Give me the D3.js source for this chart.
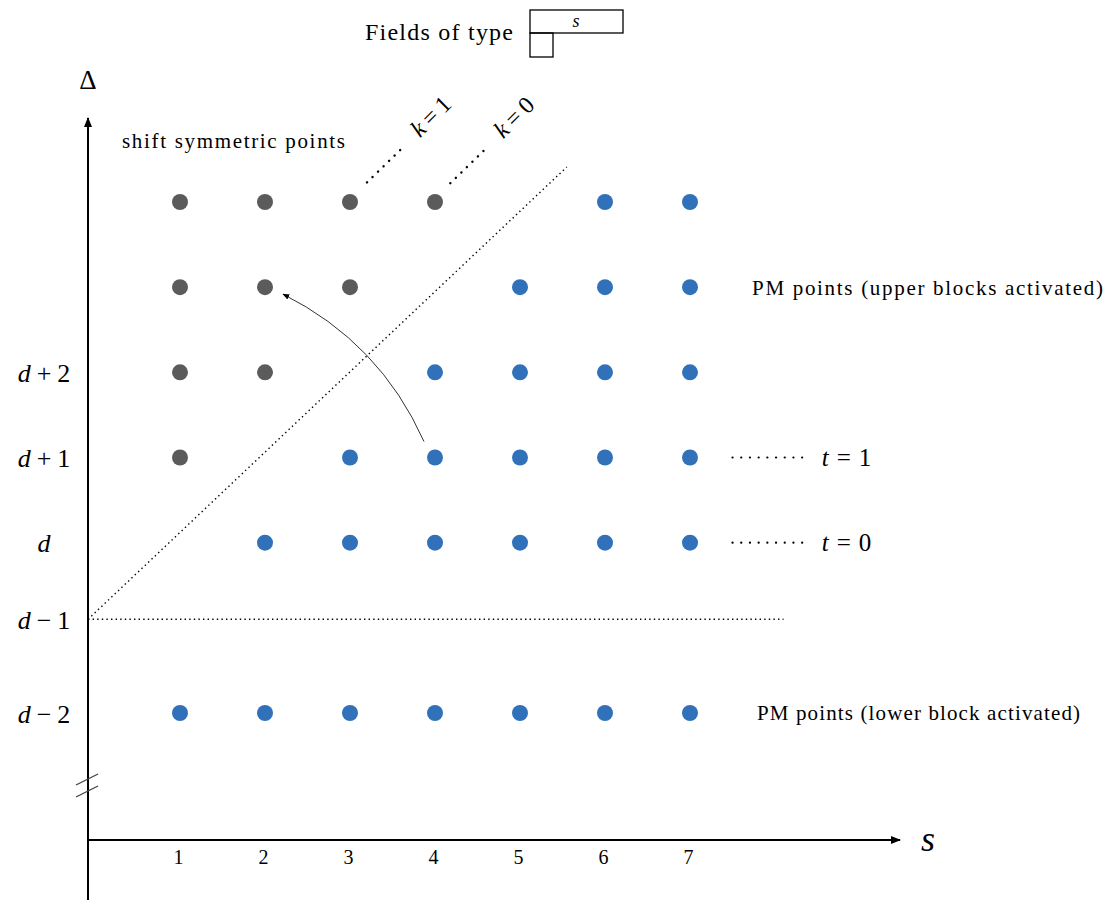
<!DOCTYPE html>
<html>
<head>
<meta charset="UTF-8">
<title>Fields of type</title>
<script src="https://d3js.org/d3.v7.min.js"></script>
<style>
  body { margin: 0; background: #fff; }
  text { font-family: "Liberation Serif", "DejaVu Serif", serif; fill: #000; }
</style>
</head>
<body>
<div id="chart"></div>
<script>
// data: s values and Delta offsets from d
var sTicks = [1, 2, 3, 4, 5, 6, 7];
var deltaTicks = [-2, -0.9, 0, 1, 2];
var deltaLabels = [["d", "\u2212", "2"], ["d", "\u2212", "1"], ["d", "", ""], ["d", "+", "1"], ["d", "+", "2"]];

// shift symmetric points (grey)
var symS = [1, 2, 3, 4, 1, 2, 3, 1, 2, 1];
var symD = [4, 4, 4, 4, 3, 3, 3, 2, 2, 1];
// PM points (blue)
var pmS = [6, 7, 5, 6, 7, 4, 5, 6, 7, 3, 4, 5, 6, 7, 2, 3, 4, 5, 6, 7, 1, 2, 3, 4, 5, 6, 7];
var pmD = [4, 4, 3, 3, 3, 2, 2, 2, 2, 1, 1, 1, 1, 1, 0, 0, 0, 0, 0, 0, -2, -2, -2, -2, -2, -2, -2];

var W = 1107, H = 900;
var svg = d3.select("#chart").append("svg")
  .attr("width", W).attr("height", H);

var x = d3.scaleLinear().domain([1, 7]).range([180, 690]);
var y = d3.scaleLinear().domain([-2, 4]).range([713, 202]);

var x0 = 88, yAxisY = 840;

// arrow markers
var defs = svg.append("defs");
defs.append("marker")
  .attr("id", "ax").attr("viewBox", "0 0 10 10")
  .attr("refX", 9).attr("refY", 5)
  .attr("markerWidth", 10).attr("markerHeight", 10)
  .attr("markerUnits", "userSpaceOnUse")
  .attr("orient", "auto")
  .append("path").attr("d", "M0,1 L10,5 L0,9 Z").attr("fill", "#000");
defs.append("marker")
  .attr("id", "cv").attr("viewBox", "0 0 10 10")
  .attr("refX", 9).attr("refY", 5)
  .attr("markerWidth", 7).attr("markerHeight", 7)
  .attr("markerUnits", "userSpaceOnUse")
  .attr("orient", "auto")
  .append("path").attr("d", "M0,1 L10,5 L0,9 Z").attr("fill", "#000");

// axes
svg.append("line")
  .attr("x1", x0).attr("y1", H).attr("x2", x0).attr("y2", 118)
  .attr("stroke", "#000").attr("stroke-width", 2)
  .attr("marker-end", "url(#ax)");
svg.append("line")
  .attr("x1", x0).attr("y1", yAxisY).attr("x2", 900).attr("y2", yAxisY)
  .attr("stroke", "#000").attr("stroke-width", 2)
  .attr("marker-end", "url(#ax)");

// axis break
[0, 12].forEach(function(o) {
  svg.append("line")
    .attr("x1", 76).attr("y1", 785 + o).attr("x2", 98).attr("y2", 774 + o)
    .attr("stroke", "#444").attr("stroke-width", 1.3);
});

// s tick labels
var xAxis = svg.append("g")
  .attr("transform", "translate(0," + yAxisY + ")")
  .call(d3.axisBottom(x).tickValues(sTicks).tickSize(0).tickPadding(10).tickFormat(d3.format("d")));
xAxis.select(".domain").remove();
xAxis.selectAll("text").style("font-size", "20px").style("font-family", "Liberation Serif, serif").attr("dx", "-2");

// Delta tick labels
var yAxis = svg.append("g")
  .attr("transform", "translate(" + x0 + ",0)")
  .call(d3.axisLeft(y).tickValues(deltaTicks).tickSize(0).tickFormat(function() { return ""; }));
yAxis.select(".domain").remove();
yAxis.selectAll(".tick text").each(function(d, i) {
  var t = d3.select(this)
    .attr("x", -44).attr("text-anchor", "middle").attr("dy", "0.35em")
    .style("font-size", "26px").style("font-family", "Liberation Serif, serif");
  var lab = deltaLabels[i];
  t.append("tspan").style("font-style", "italic").text(lab[0]);
  if (lab[1]) {
    t.append("tspan").attr("dx", "6").text(lab[1]);
    t.append("tspan").attr("dx", "6").text(lab[2]);
  }
});

// axis names
svg.append("text").attr("x", 88).attr("y", 89).attr("text-anchor", "middle")
  .style("font-size", "27px").text("\u0394");
svg.append("text").attr("x", 928).attr("y", 851).attr("text-anchor", "middle")
  .style("font-size", "36px").style("font-style", "italic").text("s");

// dotted guide lines
svg.append("line")
  .attr("x1", x0).attr("y1", y(-0.9)).attr("x2", x(8.1)).attr("y2", y(-0.9))
  .attr("stroke", "#000").attr("stroke-width", 1.4).attr("stroke-dasharray", "1.4,3.2");
svg.append("line")
  .attr("x1", x0).attr("y1", y(-0.9)).attr("x2", x(5.55)).attr("y2", y(4.41))
  .attr("stroke", "#000").attr("stroke-width", 1.4).attr("stroke-dasharray", "1.4,3.2");

// k labels with short dotted leaders
function kLabel(sx, dy, txt) {
  var px = x(sx), py = y(dy);
  svg.append("line")
    .attr("x1", px).attr("y1", py).attr("x2", px + 38).attr("y2", py - 37)
    .attr("stroke", "#000").attr("stroke-width", 2.4).attr("stroke-dasharray", "0.1,7.6")
    .attr("stroke-linecap", "round");
  var g = svg.append("g").attr("transform", "translate(" + (px + 47) + "," + (py - 50) + ") rotate(-45)");
  var t = g.append("text").attr("text-anchor", "start").attr("dy", "0.35em").style("font-size", "24px");
  t.append("tspan").style("font-style", "italic").text("k");
  t.append("tspan").attr("dx", "5").text("=");
  t.append("tspan").attr("dx", "5").text(txt);
}
kLabel(3.2, 4.23, "1");
kLabel(4.18, 4.22, "0");

// t labels with dotted leaders
function tLabel(dy, txt) {
  var py = y(dy);
  svg.append("line")
    .attr("x1", x(7.5)).attr("y1", py).attr("x2", x(8.35)).attr("y2", py)
    .attr("stroke", "#000").attr("stroke-width", 2.2).attr("stroke-dasharray", "0.1,8.6")
    .attr("stroke-linecap", "round");
  var t = svg.append("text").attr("x", x(8.55)).attr("y", py).attr("dy", "0.35em").style("font-size", "25px");
  t.append("tspan").style("font-style", "italic").text("t");
  t.append("tspan").attr("dx", "8").text("=");
  t.append("tspan").attr("dx", "8").text(txt);
}
tLabel(1, "1");
tLabel(0, "0");

// points
svg.append("g").selectAll("circle").data(symS).join("circle")
  .attr("cx", function(d) { return x(d); })
  .attr("cy", function(d, i) { return y(symD[i]); })
  .attr("r", 8).attr("fill", "#5b5b5b");
svg.append("g").selectAll("circle").data(pmS).join("circle")
  .attr("cx", function(d) { return x(d); })
  .attr("cy", function(d, i) { return y(pmD[i]); })
  .attr("r", 8).attr("fill", "#3171b9");

// curved arrow from (4, d+1) to (2, d+3)
var p0 = [x(4) - 11, y(1) - 16], p2 = [x(2) + 18, y(3) + 7];
var q = [x(3.35), y(2.35)];
svg.append("path")
  .attr("d", "M" + p0 + " Q" + q + " " + p2)
  .attr("fill", "none").attr("stroke", "#333").attr("stroke-width", 1)
  .attr("marker-end", "url(#cv)");

// region labels
svg.append("text").attr("x", 122).attr("y", 148).style("font-size", "21px")
  .attr("textLength", 223).attr("lengthAdjust", "spacing").text("shift symmetric points");
svg.append("text").attr("x", 752).attr("y", y(3)).attr("dy", "0.35em").style("font-size", "21px")
  .attr("textLength", 351).attr("lengthAdjust", "spacing").text("PM points (upper blocks activated)");
svg.append("text").attr("x", 757).attr("y", y(-2)).attr("dy", "0.35em").style("font-size", "21px")
  .attr("textLength", 323).attr("lengthAdjust", "spacing").text("PM points (lower block activated)");

// title with Young diagram
svg.append("text").attr("x", 365).attr("y", 40).style("font-size", "24px")
  .attr("textLength", 148).attr("lengthAdjust", "spacing").text("Fields of type");
var yd = svg.append("g").attr("fill", "none").attr("stroke", "#000").attr("stroke-width", 1.3);
yd.append("rect").attr("x", 530).attr("y", 10).attr("width", 93).attr("height", 23);
yd.append("rect").attr("x", 530).attr("y", 33).attr("width", 23).attr("height", 24);
svg.append("text").attr("x", 576).attr("y", 27).attr("text-anchor", "middle")
  .style("font-size", "18px").style("font-style", "italic").text("s");
</script>
</body>
</html>
